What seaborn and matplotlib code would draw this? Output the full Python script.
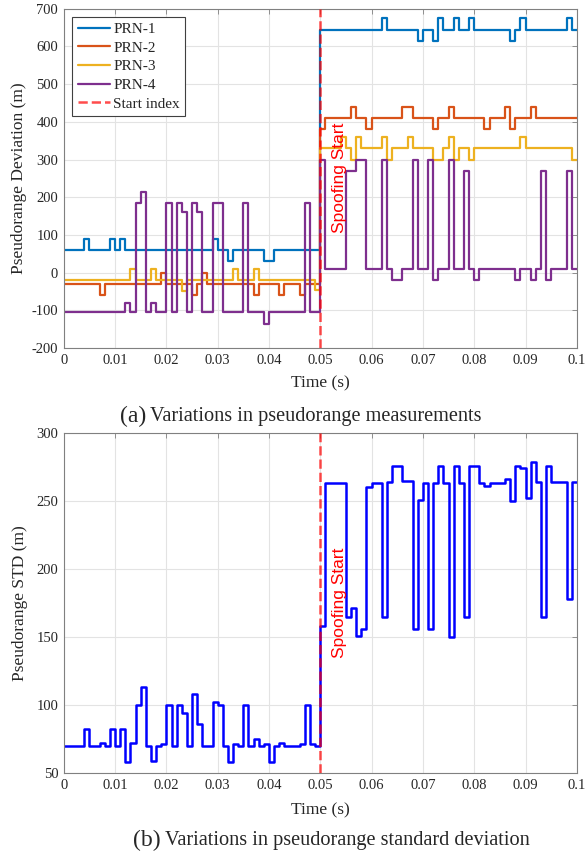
import numpy as np
import pandas as pd
import matplotlib
matplotlib.use('Agg')
import matplotlib.pyplot as plt
import seaborn as sns

# --- data (one sample per ms, 0 .. 0.099 s) ---
sample_dt = 0.001
spoof_time = 0.05

prn1 = [60, 60, 60, 60, 90, 60, 60, 60, 60, 90,
        60, 90, 60, 60, 60, 60, 60, 60, 60, 60,
        60, 60, 60, 60, 60, 60, 60, 60, 60, 90,
        60, 60, 30, 60, 60, 60, 60, 60, 60, 30,
        30, 60, 60, 60, 60, 60, 60, 60, 60, 60,
        645, 645, 645, 645, 645, 645, 645, 645, 645, 645,
        645, 645, 675, 645, 645, 645, 645, 645, 645, 615,
        645, 645, 615, 675, 645, 645, 675, 645, 645, 675,
        645, 645, 645, 645, 645, 645, 645, 615, 645, 675,
        645, 645, 645, 645, 645, 645, 645, 645, 675, 645]

prn2 = [-30, -30, -30, -30, -30, -30, -30, -60, -30, -30,
        -30, -30, -30, -30, -30, -30, -30, -30, -30, 0,
        -30, -30, -30, -30, -30, -60, -30, 0, -30, -30,
        -30, -30, -30, -30, -30, -30, -30, -60, -30, -30,
        -30, -30, -60, -30, -30, -30, -60, -30, -30, -30,
        380, 410, 410, 410, 410, 410, 440, 410, 410, 380,
        410, 410, 410, 410, 410, 410, 440, 440, 410, 410,
        410, 410, 380, 410, 410, 440, 410, 410, 410, 410,
        410, 410, 380, 410, 410, 410, 440, 380, 410, 410,
        410, 440, 410, 410, 410, 410, 410, 410, 410, 410]

prn3 = [-20, -20, -20, -20, -20, -20, -20, -20, -20, -20,
        -20, -20, -20, 10, -20, -20, -20, 10, -20, -20,
        -20, -20, -20, -50, -20, -20, -20, -20, -20, -20,
        -20, -20, -20, 10, -20, -20, -20, 10, -20, -20,
        -20, -20, -20, -20, -20, -20, -20, -20, -20, -45,
        330, 330, 330, 330, 360, 330, 300, 360, 330, 330,
        330, 330, 360, 300, 330, 330, 330, 360, 330, 330,
        330, 330, 300, 300, 330, 360, 300, 330, 330, 300,
        330, 330, 330, 330, 330, 330, 330, 330, 330, 360,
        330, 330, 330, 330, 330, 330, 330, 330, 330, 300]

prn4 = [-105, -105, -105, -105, -105, -105, -105, -105, -105, -105,
        -105, -105, -80, -105, 185, 215, -105, -80, -105, -105,
        185, -105, 185, 160, -105, 185, 160, -105, -105, 185,
        185, -105, -105, -105, -105, 185, -105, -105, -105, -135,
        -105, -105, -105, -105, -105, -105, -105, 185, -105, -105,
        300, 10, 10, 10, 10, 270, 270, 300, 300, 10,
        10, 10, 300, 10, -20, -20, 10, 10, 300, 10,
        10, 300, -20, 10, 10, 300, 10, 10, 270, 10,
        -20, 10, 10, 10, 10, 10, 10, 10, -20, 10,
        10, -20, 10, 270, -20, 10, 10, 10, 270, 10]

pr_std = [70, 70, 70, 70, 82, 70, 70, 72, 70, 82,
          70, 82, 58, 72, 100, 113, 70, 59, 70, 71,
          100, 70, 100, 94, 70, 108, 86, 70, 70, 102,
          100, 70, 58, 71, 70, 100, 70, 75, 70, 71,
          58, 70, 72, 70, 70, 70, 71, 100, 71, 70,
          158, 263, 263, 263, 263, 165, 171, 151, 156, 260,
          263, 263, 165, 264, 276, 276, 265, 265, 156, 251,
          263, 156, 263, 276, 263, 150, 276, 263, 165, 276,
          276, 263, 261, 263, 263, 263, 266, 250, 276, 274,
          252, 279, 264, 165, 276, 264, 264, 264, 178, 264]

series_names = ['PRN-1', 'PRN-2', 'PRN-3', 'PRN-4']
series_values = [prn1, prn2, prn3, prn4]
series_colors = ['#0072BD', '#D95319', '#EDB120', '#7E2F8E']

xticks = [0, 0.01, 0.02, 0.03, 0.04, 0.05, 0.06, 0.07, 0.08, 0.09, 0.1]
xtick_labels = ['0', '0.01', '0.02', '0.03', '0.04', '0.05',
                '0.06', '0.07', '0.08', '0.09', '0.1']
yticks_top = [-200, -100, 0, 100, 200, 300, 400, 500, 600, 700]
yticks_bot = [50, 100, 150, 200, 250, 300]

# stairs: repeat last sample so the step runs out to t = 0.1
n = len(prn1)
t = np.round(np.arange(n + 1) * sample_dt, 4)


def stairs(v):
    return list(v) + [v[-1]]


sns.set_style("whitegrid")
plt.rcParams['font.family'] = ['Liberation Serif', 'DejaVu Serif']
plt.rcParams['axes.unicode_minus'] = False

W, H = 585, 856
fig = plt.figure(figsize=(W / 100, H / 100), dpi=100)

ax1 = fig.add_axes([63.8 / W, 1 - 348 / H, 513 / W, 339.2 / H])
ax2 = fig.add_axes([63.8 / W, 1 - 773 / H, 513 / W, 340 / H])

# --- top: pseudorange deviation ---
for name, vals, col in zip(series_names, series_values, series_colors):
    sns.lineplot(x=t, y=stairs(vals), ax=ax1, color=col, label=name,
                 drawstyle='steps-post', linewidth=1.6, errorbar=None)
ax1.axvline(spoof_time, color='red', alpha=0.7, linestyle='--',
            linewidth=1.8, label='Start index', zorder=5)
ax1.text(0.0537, 251, 'Spoofing Start', rotation=90, color='red',
         ha='center', va='center', fontsize=12.5, family='Liberation Sans')
ax1.set_ylim(-200, 700)
ax1.set_yticks(yticks_top)
ax1.set_ylabel('Pseudorange Deviation (m)', fontsize=12.5)
leg = ax1.legend(loc='upper left', fontsize=11, handlelength=2.1,
                 handletextpad=0.25, labelspacing=0.32, borderpad=0.35,
                 borderaxespad=0.55, fancybox=False, framealpha=1)
leg.get_frame().set_edgecolor('#404040')
leg.get_frame().set_linewidth(0.8)

# --- bottom: pseudorange STD ---
sns.lineplot(x=t, y=stairs(pr_std), ax=ax2, color='#0000FF',
             drawstyle='steps-post', linewidth=1.8, errorbar=None)
ax2.axvline(spoof_time, color='red', alpha=0.7, linestyle='--',
            linewidth=1.8, zorder=5)
ax2.text(0.0537, 175, 'Spoofing Start', rotation=90, color='red',
         ha='center', va='center', fontsize=12.5, family='Liberation Sans')
ax2.set_ylim(50, 300)
ax2.set_yticks(yticks_bot)
ax2.set_ylabel('Pseudorange STD (m)', fontsize=12.5)

for ax, ylab_x, xlab_y in ((ax1, -0.072, -0.08), (ax2, -0.07, -0.085)):
    ax.set_xlim(0, 0.1)
    ax.set_xticks(xticks)
    ax.set_xticklabels(xtick_labels)
    ax.set_xlabel('Time (s)', fontsize=12.5)
    ax.grid(True, color='#e3e3e3', linewidth=0.8)
    ax.tick_params(direction='in', top=True, right=True, length=3.5,
                   width=0.6, color='#808080', labelsize=10.5,
                   labelcolor='#262626', pad=4)
    for s in ax.spines.values():
        s.set_color('#808080')
        s.set_linewidth(0.8)
    ax.xaxis.set_label_coords(0.5, xlab_y)
    ax.yaxis.set_label_coords(ylab_x, 0.5)

# captions
fig.text(146 / W, 1 - 416 / H, '(a)', fontsize=17, ha='right', va='center')
fig.text(150 / W, 1 - 416 / H, 'Variations in pseudorange measurements',
         fontsize=14.6, ha='left', va='center')
fig.text(161 / W, 1 - 840 / H, '(b)', fontsize=17, ha='right', va='center')
fig.text(165 / W, 1 - 840 / H, 'Variations in pseudorange standard deviation',
         fontsize=14.6, ha='left', va='center')

fig.savefig('out.png', dpi=100)
